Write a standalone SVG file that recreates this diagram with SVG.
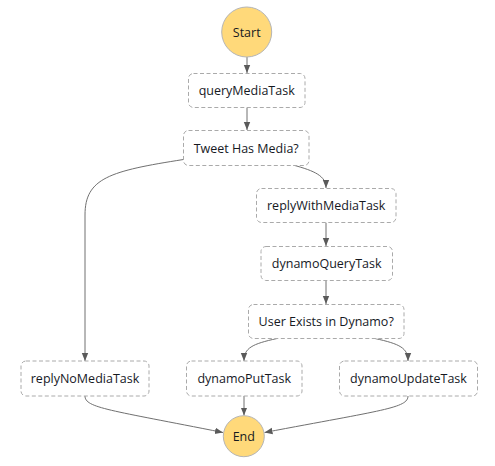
<svg xmlns="http://www.w3.org/2000/svg" width="495" height="466" viewBox="0 0 495 466">
<style>
.box{fill:#fff;stroke:#aaa;stroke-width:1;stroke-dasharray:4 2.5}
.circ{fill:#ffd97a;stroke:#b5b5b5;stroke-width:1}
.lbl{font-family:"Open Sans","Noto Sans","DejaVu Sans",sans-serif;font-size:12.5px;fill:#16191f;text-anchor:middle;dominant-baseline:central}
.edge{fill:none;stroke:#707070;stroke-width:1;marker-end:url(#arr)}
</style>
<defs>
<marker id="arr" viewBox="0 0 8 8" refX="8" refY="4" markerWidth="8" markerHeight="8" markerUnits="userSpaceOnUse" orient="auto">
<path d="M0,0.8 L8,4 L0,7.2 Z" fill="#5a5a5a"/>
</marker>
</defs>
<rect width="495" height="466" fill="#fff"/>
<g id="connectors">
<path class="edge" d="M247,57 V73"/>
<path class="edge" d="M247,107.5 V130"/>
<path class="edge" d="M183.5,159.5 C110,171 85,178 85,215 V361"/>
<path class="edge" d="M293,165 C315,171 326,176 326,188"/>
<path class="edge" d="M326,222.5 V246"/>
<path class="edge" d="M326,280.5 V304"/>
<path class="edge" d="M277,338.5 C252,344 244,348 244,361"/>
<path class="edge" d="M375,338.5 C400,344 408,348 408,361"/>
<path class="edge" d="M85,396 C85,408 110,410 223,432.5"/>
<path class="edge" d="M244,396 V415.5"/>
<path class="edge" d="M408,396 C408,408 383,410 264.5,432.5"/>
</g>
<g id="start">
<circle class="circ" cx="246.7" cy="32" r="25"/>
<text class="lbl" x="246.7" y="32.5">Start</text>
</g>
<g id="queryMediaTask">
<rect class="box" x="188.5" y="73.5" width="116.5" height="34" rx="5"/>
<text class="lbl" x="246.7" y="90.5">queryMediaTask</text>
</g>
<g id="tweetHasMedia">
<rect class="box" x="183.5" y="130.5" width="125.5" height="35" rx="5"/>
<text class="lbl" x="246.2" y="148">Tweet Has Media?</text>
</g>
<g id="replyWithMediaTask">
<rect class="box" x="256.5" y="188.5" width="139.5" height="34" rx="5"/>
<text class="lbl" x="326.2" y="205.5">replyWithMediaTask</text>
</g>
<g id="dynamoQueryTask">
<rect class="box" x="261" y="246.5" width="131.5" height="34" rx="5"/>
<text class="lbl" x="326.7" y="263.5">dynamoQueryTask</text>
</g>
<g id="userExistsInDynamo">
<rect class="box" x="248.5" y="304.5" width="155.5" height="34" rx="5"/>
<text class="lbl" x="326.2" y="321.5">User Exists in Dynamo?</text>
</g>
<g id="replyNoMediaTask">
<rect class="box" x="21" y="361" width="128" height="35" rx="5"/>
<text class="lbl" x="85" y="378.5">replyNoMediaTask</text>
</g>
<g id="dynamoPutTask">
<rect class="box" x="186.5" y="361" width="115.5" height="35" rx="5"/>
<text class="lbl" x="244.2" y="378.5">dynamoPutTask</text>
</g>
<g id="dynamoUpdateTask">
<rect class="box" x="339.5" y="361" width="138" height="35" rx="5"/>
<text class="lbl" x="408.5" y="378.5">dynamoUpdateTask</text>
</g>
<g id="end">
<circle class="circ" cx="243.8" cy="436.2" r="20.5"/>
<text class="lbl" x="243.8" y="436.7">End</text>
</g>
</svg>
